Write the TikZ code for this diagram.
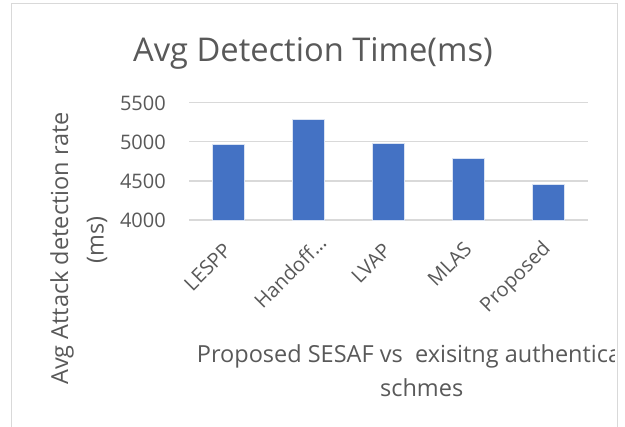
\documentclass[tikz,border=0pt]{standalone}
\usepackage{fontspec}
\setmainfont{Open Sans}
\definecolor{txt}{HTML}{595959}
\definecolor{gridc}{HTML}{D9D9D9}
\definecolor{barc}{HTML}{4472C4}
\begin{document}
\begin{tikzpicture}[x=1pt,y=-1pt,
  lbl/.style={text=txt, inner sep=0pt},
  ticklbl/.style={lbl, anchor=base east, font=\fontsize{20}{24}\selectfont},
  catlbl/.style={lbl, rotate=45, font=\fontsize{20}{24}\selectfont},
  axtitle/.style={lbl, font=\fontsize{23.5}{28}\selectfont},
  gridline/.style={draw=gridc, line width=1.3pt},
  barbox/.style={fill=barc, draw=white!80!barc, line width=0.6pt}]
\useasboundingbox (0,0) rectangle (625,427);
\fill[white] (0,0) rectangle (625,427);
% chart border
\draw[gridc, line width=1pt] (11,427) -- (11,4) -- (617,4) -- (617,427);
% title
\node[lbl, anchor=base, font=\fontsize{32.7}{38}\selectfont] (title) at (313,62) {Avg Detection Time(ms)};
% gridlines and tick labels
\foreach \v/\n in {4000/a,4500/b,5000/c,5500/d}{
  \pgfmathsetmacro{\gy}{220-(\v-4000)/500*39.1}
  \draw[gridline] (189,\gy) -- (588,\gy);
  \node[ticklbl] (tick\n) at (166,\gy+8) {\v};
}
% bars
\foreach \cx/\val in {228.5/4972,308.5/5292,388.5/4985,468.5/4789,548.5/4460}{
  \pgfmathsetmacro{\bt}{220-(\val-4000)/500*39.1}
  \draw[barbox] (\cx-16,220) rectangle (\cx+16,\bt);
}
% category labels
\node[catlbl] (c1) at (207.5,267) {LESPP};
\node[catlbl] (c2) at (290,272) {Handoff…};
\node[catlbl] (c3) at (371,263) {LVAP};
\node[catlbl] (c4) at (449.5,264) {MLAS};
\node[catlbl] (c5) at (516,278) {Proposed};
% y axis title
\node[axtitle, rotate=90] (yt1) at (62,248.5) {Avg Attack detection rate};
\node[axtitle, rotate=90] (yt2) at (97,240) {(ms)};
% x axis title
\begin{scope}
  \clip (11,300) rectangle (614,427);
  \node[axtitle, anchor=base west] (xt1) at (196.7,363) {Proposed SESAF vs\ \ exisitng authentication};
\end{scope}
\node[axtitle, anchor=base] (xt2) at (421.7,397) {schmes};
\end{tikzpicture}
\end{document}
